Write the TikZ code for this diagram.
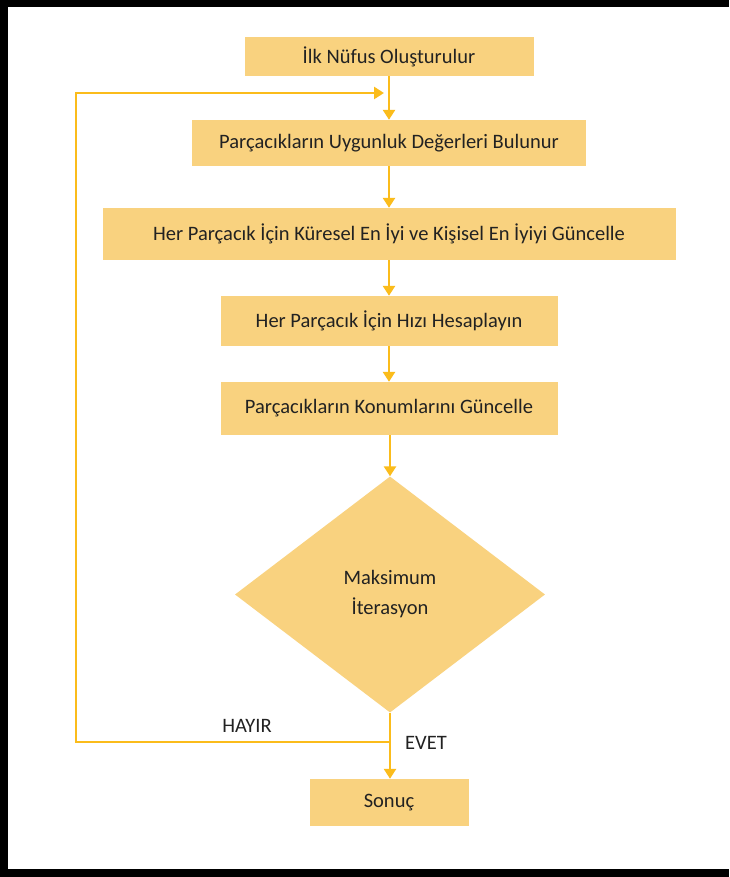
\documentclass[tikz,border=0pt]{standalone}
\usepackage{fontspec}
\setmainfont{Carlito}
\usetikzlibrary{shapes.geometric,arrows.meta}
\definecolor{boxfill}{HTML}{F9D27F}
\definecolor{linegold}{HTML}{FBBC1B}
\definecolor{inktext}{HTML}{222222}
\begin{document}
\begin{tikzpicture}[x=1pt,y=-1pt,
  every node/.style={inner sep=0pt, text=inktext, font=\fontsize{20.5}{30}\selectfont},
  stepbox/.style={rectangle, fill=boxfill, draw=none},
  decision/.style={diamond, fill=boxfill, draw=none, align=center},
  flow/.style={draw=linegold, line width=2.6pt, -{Triangle[length=10pt,width=12pt]}}]
% page with its black frame on three sides
\useasboundingbox (0,0) rectangle (729,877);
\fill[white] (0,0) rectangle (729,877);
\fill[black] (0,0) rectangle (729,7);
\fill[black] (0,0) rectangle (8,877);
\fill[black] (0,869) rectangle (729,877);

% process steps
\node[stepbox, minimum width=289pt, minimum height=39pt] (init) at (389,56.5) {İlk Nüfus Oluşturulur};
\node[stepbox, minimum width=394pt, minimum height=46pt] (fit) at (389,143) {Parçacıkların Uygunluk Değerleri Bulunur};
\node[stepbox, minimum width=573pt, minimum height=52pt] (best) at (389,234) {Her Parçacık İçin Küresel En İyi ve Kişisel En İyiyi Güncelle};
\node[stepbox, minimum width=337pt, minimum height=50pt] (vel) at (389,321) {Her Parçacık İçin Hızı Hesaplayın};
\node[stepbox, minimum width=337pt, minimum height=53pt] (pos) at (389,408.5) {Parçacıkların Konumlarını Güncelle};
\node[decision, minimum width=310pt, minimum height=236pt] (check) at (390,594.5) {Maksimum\\İterasyon};
\node[stepbox, minimum width=159pt, minimum height=47pt] (done) at (389,802.5) {Sonuç};

% loop-back path
\coordinate (split) at (390,742);
\coordinate (loopL) at (76,742);
\coordinate (loopT) at (76,93);
\coordinate (join) at (389,93);

\draw[flow] (init) -- (fit);
\draw[flow] (fit) -- (best);
\draw[flow] (best) -- (vel);
\draw[flow] (vel) -- (pos);
\draw[flow] (pos.south -| check.north) -- (check.north);
\draw[flow] (check.south) -- (done.north -| check.south);
\draw[flow] (split) -- (loopL) -- (loopT) -- ([xshift=-5pt]join);

% branch labels
\node (no) at (247,726) {HAYIR};
\node (yes) at (426,743) {EVET};
\end{tikzpicture}
\end{document}
